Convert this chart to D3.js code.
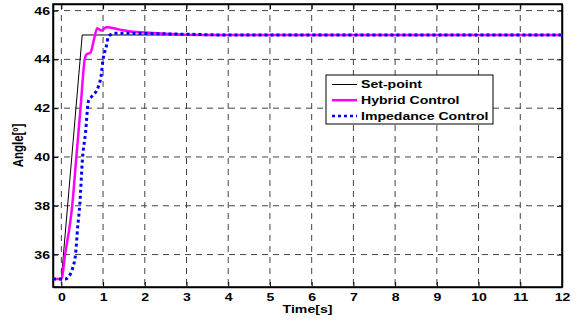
<!DOCTYPE html>
<html>
<head>
<meta charset="utf-8">
<script src="https://cdn.jsdelivr.net/npm/d3@7"></script>
<style>
  body { margin: 0; background: #fff; }
  text { font-family: "Liberation Sans", Arial, sans-serif; font-weight: bold; }
</style>
</head>
<body>
<svg id="chart" width="579" height="322"></svg>
<script>
// set-point ramp
const setTime = [-0.2, 0, 0.5, 12];
const setAngle = [35, 35, 45, 45];

// hybrid control response
const hybridTime = [-0.2, 0.0, 0.09, 0.26, 0.36, 0.46, 0.56, 0.6, 0.7, 0.78, 0.86, 0.96, 1.08, 1.4, 1.73, 2.0, 2.5, 3.0, 4.0, 12];
const hybridAngle = [35, 35, 36, 38, 40, 42, 44, 44.2, 44.28, 44.8, 45.28, 45.18, 45.32, 45.22, 45.13, 45.1, 45.05, 45.01, 45.0, 45.0];

// impedance control response
const impTime = [-0.2, 0.1, 0.18, 0.28, 0.34, 0.39, 0.44, 0.51, 0.58, 0.65, 0.74, 0.88, 0.95, 1.0, 1.08, 1.13, 1.3, 2.0, 3.0, 4.0, 12];
const impAngle = [35, 35, 35.1, 35.5, 36, 37.1, 38, 40, 41, 42.3, 42.5, 42.85, 43.3, 44, 44.55, 44.95, 45.07, 45.06, 45.03, 45.0, 45.0];

const xTicks = d3.range(0, 13);
const yTicks = [36, 38, 40, 42, 44, 46];
const legendLabels = ['Set-point', 'Hybrid Control', 'Impedance Control'];

const stretch = 1.28; // the original text is wide, like a squashed export

const svg = d3.select('#chart');
const margin = { top: 4, right: 17, bottom: 35, left: 53 };
const width = +svg.attr('width') - margin.left - margin.right;
const height = +svg.attr('height') - margin.top - margin.bottom;

const x = d3.scaleLinear().domain([-0.2, 12]).range([0, width]);
const y = d3.scaleLinear().domain([34.67, 46.27]).range([height, 0]);

const g = svg.append('g').attr('transform', `translate(${margin.left},${margin.top})`);

// grid
g.append('g').selectAll('line').data(xTicks.filter(d => d !== 12)).join('line')
  .attr('x1', d => x(d)).attr('x2', d => x(d))
  .attr('y1', 0).attr('y2', height)
  .attr('stroke', '#444').attr('stroke-width', 1).attr('stroke-dasharray', '6,5');
g.append('g').selectAll('line').data(yTicks).join('line')
  .attr('x1', 0).attr('x2', width)
  .attr('y1', d => y(d)).attr('y2', d => y(d))
  .attr('stroke', '#444').attr('stroke-width', 1).attr('stroke-dasharray', '6,5');

// axes (ticks inside)
g.append('g').attr('transform', `translate(0,${height})`)
  .call(d3.axisBottom(x).tickValues(xTicks).tickSizeInner(-5).tickSizeOuter(0).tickPadding(6))
  .selectAll('.tick text').attr('transform', `scale(${stretch},1)`);
g.append('g')
  .call(d3.axisLeft(y).tickValues(yTicks).tickSizeInner(-5).tickSizeOuter(0))
  .selectAll('.tick text').attr('x', -3 / stretch).attr('transform', `scale(${stretch},1)`);
g.append('g').call(d3.axisTop(x).tickValues(xTicks).tickSizeInner(-5).tickSizeOuter(0).tickFormat(''));
g.append('g').attr('transform', `translate(${width},0)`)
  .call(d3.axisRight(y).tickValues(yTicks).tickSizeInner(-5).tickSizeOuter(0).tickFormat(''));

g.selectAll('.domain').attr('stroke', '#000').attr('stroke-width', 1.5);
g.selectAll('.tick line').attr('stroke', '#000');
g.selectAll('.tick text').style('font-size', '11px').attr('fill', '#000');

g.append('rect').attr('width', width).attr('height', height)
  .attr('fill', 'none').attr('stroke', '#000').attr('stroke-width', 1.5);

// lines
g.append('clipPath').attr('id', 'clip').append('rect').attr('width', width).attr('height', height);

const series = [
  { t: setTime, v: setAngle, color: '#000', w: 1, dash: null, curve: d3.curveLinear },
  { t: hybridTime, v: hybridAngle, color: '#ff00ff', w: 2.5, dash: null, curve: d3.curveMonotoneX },
  { t: impTime, v: impAngle, color: '#0000ff', w: 3, dash: '3,3', curve: d3.curveMonotoneX }
];

series.forEach(s => {
  const line = d3.line().x(d => x(d[0])).y(d => y(d[1])).curve(s.curve);
  g.append('path')
    .datum(s.t.map((t, i) => [t, s.v[i]]))
    .attr('clip-path', 'url(#clip)')
    .attr('fill', 'none')
    .attr('stroke', s.color)
    .attr('stroke-width', s.w)
    .attr('stroke-dasharray', s.dash)
    .attr('d', line);
});

// legend
const legend = svg.append('g').attr('transform', 'translate(326,75)');
legend.append('rect').attr('width', 167).attr('height', 49)
  .attr('fill', '#fff').attr('stroke', '#000').attr('stroke-width', 1);
legendLabels.forEach((label, i) => {
  const s = series[i];
  const cy = 9.5 + i * 15.7;
  legend.append('line').attr('x1', 6).attr('x2', 31).attr('y1', cy).attr('y2', cy)
    .attr('stroke', s.color).attr('stroke-width', i === 0 ? 1 : 2.5)
    .attr('stroke-dasharray', s.dash);
  legend.append('text')
    .attr('transform', `translate(35,${cy}) scale(${stretch},1)`)
    .attr('dy', '0.36em')
    .style('font-size', '11px').text(label);
});

// axis labels
svg.append('text')
  .attr('transform', `translate(${margin.left + width / 2},313) scale(${stretch},1)`)
  .attr('text-anchor', 'middle').style('font-size', '11px')
  .text('Time[s]');
svg.append('text')
  .attr('transform', `translate(23,${margin.top + height / 2}) rotate(-90) scale(1,${stretch})`)
  .attr('text-anchor', 'middle').style('font-size', '11.5px')
  .text('Angle[º]');
</script>
</body>
</html>
